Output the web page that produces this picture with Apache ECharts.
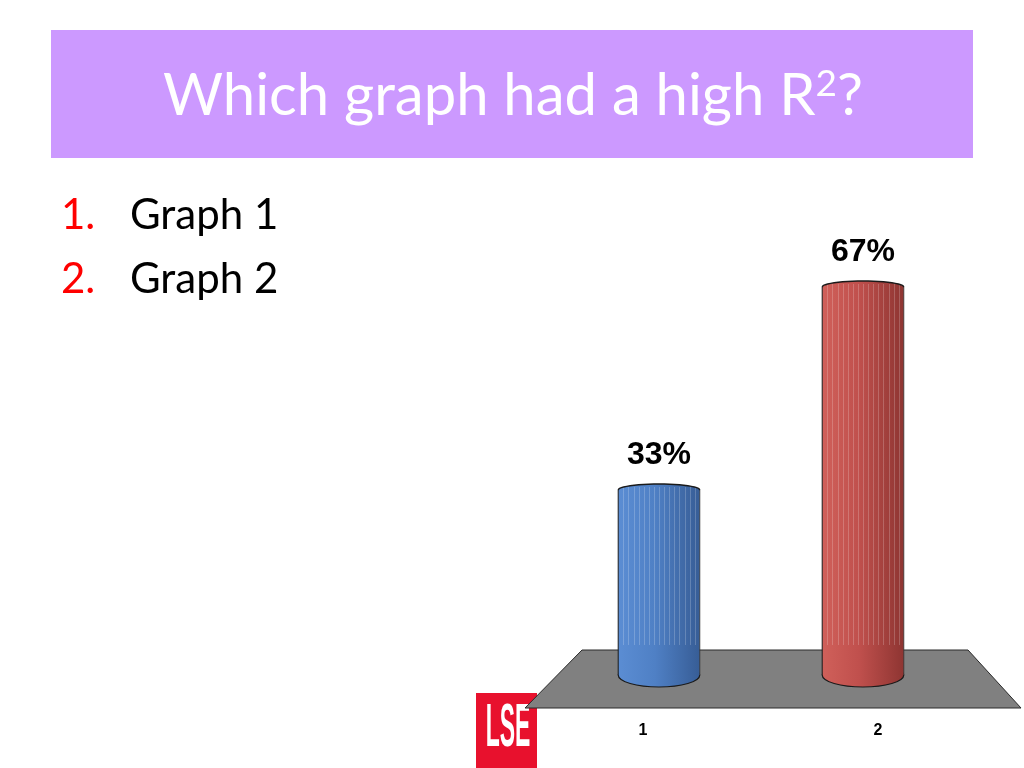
<!DOCTYPE html>
<html>
<head>
<meta charset="utf-8">
<script src="https://cdn.jsdelivr.net/npm/echarts@6/dist/echarts.min.js"></script>
<style>
html,body{margin:0;padding:0;background:#fff;}
#main{width:1024px;height:768px;}
</style>
</head>
<body>
<div id="main"></div>
<script>
// ---- data ----
var categories = ['1', '2'];
var values = [33, 67];
var barColors = [
  ['#5b8dd3', '#4f80c5', '#375d96'],
  ['#d0605a', '#c0504d', '#8e3532']
];
var titleMain = 'Which graph had a high R';
var titleSup = '2';
var titleEnd = '?';
var listNums = ['1.', '2.'];
var listItems = ['Graph 1', 'Graph 2'];

var chart = echarts.init(document.getElementById('main'), null, {renderer: 'canvas'});

function cylinder(params, api) {
  var idx = params.dataIndex;
  var x = api.value(0), v = api.value(1);
  var top = api.coord([x, v]);
  var base = api.coord([x, 0]);
  var bw = api.size([1, 0])[0] * 0.4;
  var half = bw / 2;
  var cx = top[0];
  var capR = 6;
  var botR = 12;
  var yTop = top[1] + capR;
  var yBase = base[1] - 6;
  var c = barColors[idx];
  var grad = new echarts.graphic.LinearGradient(0, 0, 1, 0, [
    {offset: 0, color: c[0]}, {offset: 0.45, color: c[1]}, {offset: 1, color: c[2]}
  ]);
  var children = [];
  children.push({type: 'ellipse', shape: {cx: cx, cy: yBase, rx: half, ry: botR},
    style: {fill: grad, stroke: '#1a1a1a', lineWidth: 1.2}});
  children.push({type: 'rect', shape: {x: cx - half, y: yTop, width: bw, height: yBase - yTop},
    style: {fill: grad}});
  children.push({type: 'ellipse', shape: {cx: cx, cy: yTop, rx: half, ry: capR},
    style: {fill: grad}});
  // stripes
  var n = 16;
  for (var i = 1; i < n; i++) {
    var sx = Math.round(cx - half + bw * i / n) + 0.5;
    children.push({type: 'line', shape: {x1: sx, y1: yTop - 3, x2: sx, y2: yBase - 30},
      style: {stroke: 'rgba(255,255,255,0.2)', lineWidth: 1}});
  }
  children.push({type: 'line', shape: {x1: cx - half, y1: yTop, x2: cx - half, y2: yBase},
    style: {stroke: '#1a1a1a', lineWidth: 1}});
  children.push({type: 'line', shape: {x1: cx + half, y1: yTop, x2: cx + half, y2: yBase},
    style: {stroke: '#333', lineWidth: 0.8}});
  // top rim: upper half of the cap ellipse
  var pts = [];
  for (var k = 0; k <= 24; k++) {
    var a = Math.PI + Math.PI * k / 24;
    pts.push([cx + half * Math.cos(a), yTop + capR * Math.sin(a)]);
  }
  children.push({type: 'polyline', shape: {points: pts},
    style: {stroke: '#1a1a1a', lineWidth: 1.4, fill: null}});
  children.push({type: 'text', x: cx, y: top[1] - 29,
    style: {text: v + '%', fill: '#000', font: 'bold 32px "Liberation Sans", Arial, sans-serif',
      align: 'center', verticalAlign: 'middle'}});
  return {type: 'group', children: children};
}

var option = {
  animation: false,
  backgroundColor: '#ffffff',
  grid: [
    {left: 557, width: 408, top: 84, height: 597},
    {left: 525.5, width: 470, top: 100, height: 615}
  ],
  xAxis: [
    {type: 'category', data: categories, gridIndex: 0, show: false},
    {type: 'category', data: categories, gridIndex: 1,
      axisLine: {show: false}, axisTick: {show: false}, splitLine: {show: false},
      axisLabel: {margin: 8, color: '#000', fontSize: 16, fontWeight: 'bold',
        fontFamily: '"Liberation Sans", Arial, sans-serif'}}
  ],
  yAxis: [
    {type: 'value', min: 0, max: 100, gridIndex: 0, show: false},
    {type: 'value', min: 0, max: 100, gridIndex: 1, show: false}
  ],
  graphic: [
    {type: 'rect', z: 1, shape: {x: 51, y: 30, width: 922, height: 128}, style: {fill: '#CC99FF'}},
    {type: 'text', z: 2, x: 513, y: 96,
      style: {
        text: '{a|' + titleMain + '}{s|' + titleSup + '}{a|' + titleEnd + '}',
        align: 'center', verticalAlign: 'middle',
        rich: {
          a: {fontSize: 58, fontFamily: 'Lato, "Open Sans", sans-serif', fill: '#fff'},
          s: {fontSize: 37, fontFamily: 'Lato, "Open Sans", sans-serif', fill: '#fff', padding: [0, 0, 24, 0]}
        }
      }},
    {type: 'text', z: 2, x: 61, y: 215, style: {text: listNums[0], fill: '#ff0000',
      font: '42px Lato, "Open Sans", sans-serif', verticalAlign: 'middle'}},
    {type: 'text', z: 2, x: 130, y: 215, style: {text: listItems[0], fill: '#000',
      font: '42px Lato, "Open Sans", sans-serif', verticalAlign: 'middle'}},
    {type: 'text', z: 2, x: 61, y: 279, style: {text: listNums[1], fill: '#ff0000',
      font: '42px Lato, "Open Sans", sans-serif', verticalAlign: 'middle'}},
    {type: 'text', z: 2, x: 130, y: 279, style: {text: listItems[1], fill: '#000',
      font: '42px Lato, "Open Sans", sans-serif', verticalAlign: 'middle'}},
    // LSE logo
    {type: 'rect', z: 1, shape: {x: 476, y: 693, width: 61, height: 75}, style: {fill: '#e8112d'}},
    {type: 'text', z: 2, x: 508, y: 729, scaleX: 0.37, originX: 0, originY: 0,
      style: {text: 'LSE', fill: '#fff', font: 'bold 62px "Liberation Sans", sans-serif',
        align: 'center', verticalAlign: 'middle'}},
    // floor
    {type: 'polygon', z: 3, shape: {points: [[582, 650], [968, 650], [1021, 708], [525, 708]]},
      style: {fill: '#808080', stroke: '#2a2a2a', lineWidth: 1}}
  ],
  series: [
    {type: 'custom', xAxisIndex: 0, yAxisIndex: 0, z: 10, renderItem: cylinder,
      data: categories.map(function (c, i) { return [i, values[i]]; })}
  ]
};
chart.setOption(option);
</script>
</body>
</html>
